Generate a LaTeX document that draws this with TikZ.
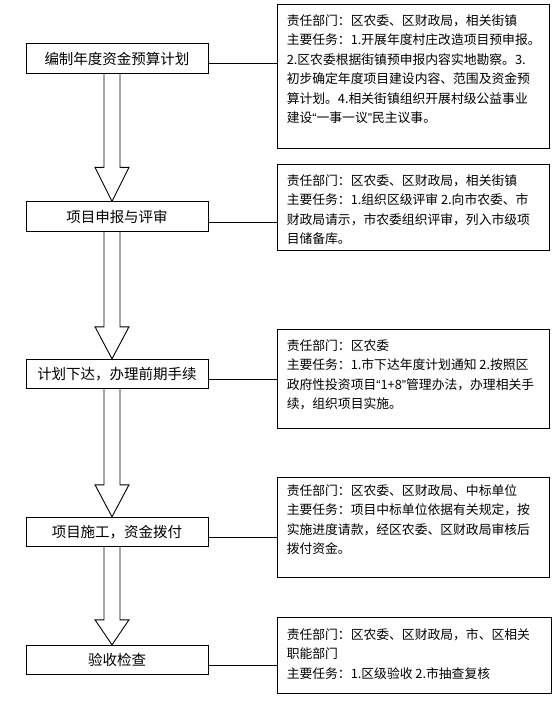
\documentclass[tikz,border=0pt]{standalone}
\usepackage{fontspec}
\setmainfont{Noto Sans CJK SC}
\newfontfamily\qfont{Liberation Sans}
\newcommand{\myLq}{{\qfont “}}
\newcommand{\myRq}{{\qfont ”}}
\usetikzlibrary{calc}
\begin{document}
\begin{tikzpicture}[x=1pt,y=-1pt,
  stage/.style={draw, line width=0.9pt, minimum width=182pt, minimum height=29.5pt, inner sep=0pt, font=\fontsize{14.5}{16}\selectfont},
  duty/.style={draw, line width=0.9pt, inner sep=0pt},
  dutytext/.style={anchor=north west, align=left, inner sep=0pt, font=\fontsize{12.8}{19.5}\selectfont},
  link/.style={line width=0.9pt},
  blk/.style={line width=0.9pt, line join=miter}]
\useasboundingbox (0,0) rectangle (559,702);
\fill[white] (0,0) rectangle (559,702);
% left stages
\node[stage] (s1) at (117,58.5) {编制年度资金预算计划};
\node[stage] (s2) at (117,216.5) {项目申报与评审};
\node[stage] (s3) at (117,374) {计划下达，办理前期手续};
\node[stage] (s4) at (117,532) {项目施工，资金拨付};
\node[stage] (s5) at (117,660) {验收检查};
% right boxes
\node[duty, minimum width=272pt, minimum height=144pt] (r1) at (413,76) {};
\node[duty, minimum width=272pt, minimum height=86pt] (r2) at (413,207) {};
\node[duty, minimum width=272pt, minimum height=99pt] (r3) at (413,378.5) {};
\node[duty, minimum width=272pt, minimum height=100pt] (r4) at (413,527) {};
\node[duty, minimum width=274pt, minimum height=76pt] (r5) at (414,655) {};
% texts
\node[dutytext] (t1) at ($(r1.north west)+(10,10.5)$) {责任部门：区农委、区财政局，相关街镇\\主要任务：1.开展年度村庄改造项目预申报。\\2.区农委根据街镇预申报内容实地勘察。3.\\初步确定年度项目建设内容、范围及资金预\\算计划。4.相关街镇组织开展村级公益事业\\建设\myLq 一事一议\myRq 民主议事。};
\node[dutytext] (t2) at ($(r2.north west)+(10,10.5)$) {责任部门：区农委、区财政局，相关街镇\\主要任务：1.组织区级评审 2.向市农委、市\\财政局请示，市农委组织评审，列入市级项\\目储备库。};
\node[dutytext] (t3) at ($(r3.north west)+(10,10.5)$) {责任部门：区农委\\主要任务：1.市下达年度计划通知 2.按照区\\政府性投资项目\myLq 1+8\myRq 管理办法，办理相关手\\续，组织项目实施。};
\node[dutytext] (t4) at ($(r4.north west)+(10,7.5)$) {责任部门：区农委、区财政局、中标单位\\主要任务：项目中标单位依据有关规定，按\\实施进度请款，经区农委、区财政局审核后\\拨付资金。};
\node[dutytext] (t5) at ($(r5.north west)+(10,11.5)$) {责任部门：区农委、区财政局，市、区相关\\职能部门\\主要任务：1.区级验收 2.市抽查复核};
% connectors
\coordinate (c1) at (0,63);
\coordinate (c2) at (0,222);
\coordinate (c3) at (0,379);
\coordinate (c4) at (0,537);
\coordinate (c5) at (0,665);
\draw[link] (s1.east |- c1) -- (r1.west |- c1);
\draw[link] (s2.east |- c2) -- (r2.west |- c2);
\draw[link] (s3.east |- c3) -- (r3.west |- c3);
\draw[link] (s4.east |- c4) -- (r4.west |- c4);
\draw[link] (s5.east |- c5) -- (r5.west |- c5);
% block arrows
\coordinate (ax) at (112,0);
\draw[blk] ($(s1.south -| ax)+(-8,0)$) -- ($(s2.north -| ax)+(-8,-34)$) -- ++(-9,0) -- (s2.north -| ax) -- ($(s2.north -| ax)+(17,-34)$) -- ++(-9,0) -- ($(s1.south -| ax)+(8,0)$);
\draw[blk] ($(s2.south -| ax)+(-8,0)$) -- ($(s3.north -| ax)+(-8,-32)$) -- ++(-9,0) -- (s3.north -| ax) -- ($(s3.north -| ax)+(17,-32)$) -- ++(-9,0) -- ($(s2.south -| ax)+(8,0)$);
\draw[blk] ($(s3.south -| ax)+(-8,0)$) -- ($(s4.north -| ax)+(-8,-32)$) -- ++(-9,0) -- (s4.north -| ax) -- ($(s4.north -| ax)+(17,-32)$) -- ++(-9,0) -- ($(s3.south -| ax)+(8,0)$);
\draw[blk] ($(s4.south -| ax)+(-8,0)$) -- ($(s5.north -| ax)+(-8,-25)$) -- ++(-9,0) -- (s5.north -| ax) -- ($(s5.north -| ax)+(17,-25)$) -- ++(-9,0) -- ($(s4.south -| ax)+(8,0)$);
\end{tikzpicture}
\end{document}
